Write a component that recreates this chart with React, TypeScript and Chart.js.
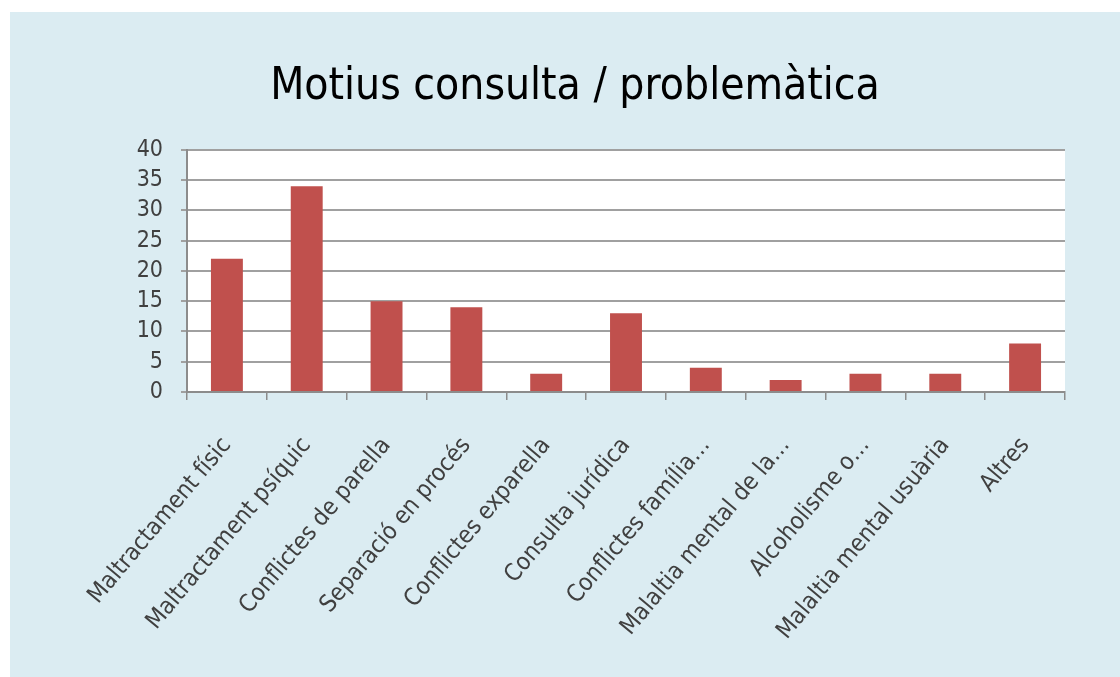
import React, { useEffect, useRef } from "react";
import { Chart, registerables } from "chart.js";

Chart.register(...registerables);

const titleText = "Motius consulta / problemàtica";
const categories = [
  "Maltractament físic",
  "Maltractament psíquic",
  "Conflictes de parella",
  "Separació en procés",
  "Conflictes exparella",
  "Consulta jurídica",
  "Conflictes família…",
  "Malaltia mental de la…",
  "Alcoholisme o…",
  "Malaltia mental usuària",
  "Altres",
];
const values = [22, 34, 15, 14, 3, 13, 4, 2, 3, 3, 8];
const yMin = 0;
const yMax = 40;
const yStep = 5;

const FONT = "'Liberation Sans Narrow', 'DejaVu Sans Condensed', Lato, sans-serif";

const backgroundPlugin = {
  id: "bgPlugin",
  beforeDraw(chart: any) {
    const { ctx, width, height, chartArea } = chart;
    ctx.save();
    ctx.fillStyle = "#ffffff";
    ctx.fillRect(0, 0, width, height);
    ctx.fillStyle = "#dbecf2";
    ctx.fillRect(10, 12, width - 10, height - 12);
    ctx.fillStyle = "#ffffff";
    ctx.fillRect(chartArea.left, chartArea.top, chartArea.right - chartArea.left, chartArea.bottom - chartArea.top);
    ctx.restore();
  },
};

export default function App() {
  const ref = useRef<HTMLCanvasElement | null>(null);
  useEffect(() => {
    if (!ref.current) return;
    const chart = new Chart(ref.current, {
      type: "bar",
      data: {
        labels: categories,
        datasets: [
          {
            data: values,
            backgroundColor: "#c0504d",
            borderWidth: 0,
            barPercentage: 0.4,
            categoryPercentage: 1,
          },
        ],
      },
      plugins: [backgroundPlugin],
      options: {
        responsive: false,
        animation: false,
        devicePixelRatio: 1,
        layout: { padding: { left: 85, right: 55, top: 0, bottom: 0 } },
        plugins: {
          legend: { display: false },
          tooltip: { enabled: false },
          title: {
            display: true,
            text: titleText,
            color: "#000000",
            font: { family: FONT, size: 44, weight: "normal" },
            padding: { top: 61, bottom: 36 },
          },
        },
        scales: {
          x: {
            afterFit(scale: any) {
              scale.height = 285;
            },
            grid: {
              display: true,
              offset: true,
              drawOnChartArea: false,
              drawTicks: true,
              tickLength: 8,
              color: "#8c8c8c",
              lineWidth: 1.5,
            },
            border: { display: true, color: "#8c8c8c", width: 2 },
            ticks: {
              autoSkip: false,
              maxRotation: 50,
              minRotation: 50,
              padding: 32,
              color: "#404040",
              font: { family: FONT, size: 24 },
            },
          },
          y: {
            min: yMin,
            max: yMax,
            afterFit(scale: any) {
              scale.width = 102;
            },
            grid: {
              color: "#a0a0a0",
              lineWidth: 2,
              drawTicks: true,
              tickLength: 6,
            },
            border: { display: true, color: "#8c8c8c", width: 2 },
            ticks: {
              stepSize: yStep,
              autoSkip: false,
              maxTicksLimit: 20,
              padding: 18,
              color: "#404040",
              font: { family: FONT, size: 23, lineHeight: 1 },
            },
          },
        },
      },
    } as any);
    return () => chart.destroy();
  }, []);
  return (
    <div style={{ position: "fixed", left: 0, top: 0, width: 1120, height: 677 }}>
      <canvas ref={ref} width={1120} height={677} style={{ display: "block" }} />
    </div>
  );
}
